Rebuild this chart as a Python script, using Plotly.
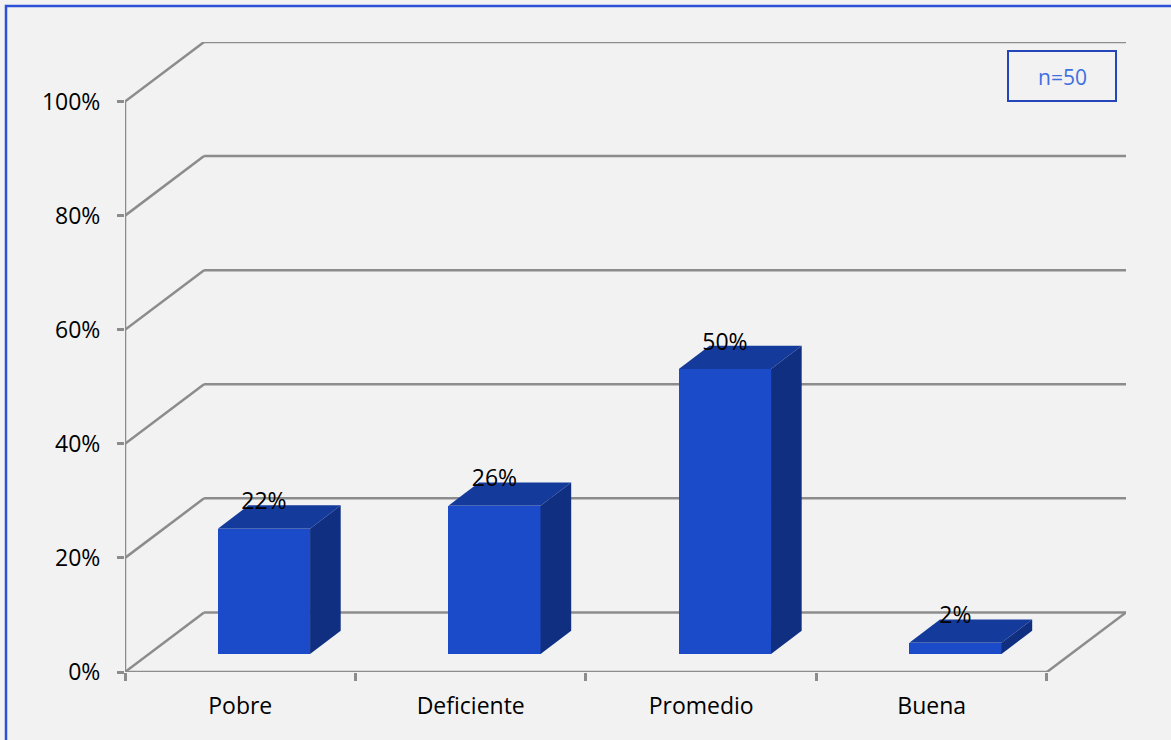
import plotly.graph_objects as go

# ---------------- data ----------------
categories = ["Pobre", "Deficiente", "Promedio", "Buena"]
values = [22, 26, 50, 2]
value_labels = ["22%", "26%", "50%", "2%"]
y_tickvals = [0, 20, 40, 60, 80, 100]
y_ticktext = ["0%", "20%", "40%", "60%", "80%", "100%"]
note_text = "n=50"

# ---------------- style / geometry ----------------
FONT = "Open Sans"
BG = "#f2f2f2"
GRID = "#8c8c8c"
FRONT = "#1b4bc8"
TOP = "#143a9c"
SIDE = "#102f80"

W, H = 1171, 740
ML, MR, MT, MB = 125, 45, 42, 68
PW, PH = W - ML - MR, H - MT - MB

DEPTH_X = 0.343      # wall depth in x units
DEPTH_Y = 10.45      # wall depth in y units
BAR_POS = 0.30       # bar front plane as fraction of depth
BAR_W = 0.40
BAR_DX = 0.133
BAR_DY = 4.08
LABEL_GAP = 4.4

x_lo, x_hi = -0.5, len(categories) - 0.5
base = BAR_POS * DEPTH_Y
off = BAR_POS * DEPTH_X
bar_x = [i + off for i in range(len(categories))]

fig = go.Figure()

# front faces
fig.add_trace(go.Bar(
    x=bar_x, y=values, base=[base] * len(values), width=BAR_W,
    marker=dict(color=FRONT, line=dict(width=0)), showlegend=False,
    hoverinfo="skip"))

# top and side faces
for xc, v in zip(bar_x, values):
    x0, x1 = xc - BAR_W / 2, xc + BAR_W / 2
    top = base + v
    fig.add_trace(go.Scatter(
        x=[x0, x1, x1 + BAR_DX, x0 + BAR_DX, x0],
        y=[top, top, top + BAR_DY, top + BAR_DY, top],
        fill="toself", fillcolor=TOP, mode="lines", line=dict(width=0),
        showlegend=False, hoverinfo="skip"))
    fig.add_trace(go.Scatter(
        x=[x1, x1 + BAR_DX, x1 + BAR_DX, x1, x1],
        y=[base, base + BAR_DY, top + BAR_DY, top, base],
        fill="toself", fillcolor=SIDE, mode="lines", line=dict(width=0),
        showlegend=False, hoverinfo="skip"))

# value labels
fig.add_trace(go.Scatter(
    x=bar_x, y=[base + v + LABEL_GAP for v in values], text=value_labels,
    mode="text", textposition="middle center",
    textfont=dict(family=FONT, size=23, color="black"),
    showlegend=False, hoverinfo="skip"))

shapes = []
gl = dict(color=GRID, width=2.5)
for v in y_tickvals:
    # back wall gridline
    shapes.append(dict(type="line", xref="x", yref="y", layer="below",
                       x0=x_lo + DEPTH_X, x1=x_hi + DEPTH_X,
                       y0=v + DEPTH_Y, y1=v + DEPTH_Y, line=gl))
    # side wall diagonal
    shapes.append(dict(type="line", xref="x", yref="y", layer="below",
                       x0=x_lo, x1=x_lo + DEPTH_X,
                       y0=v, y1=v + DEPTH_Y, line=gl))
# front vertical axis
shapes.append(dict(type="line", xref="x", yref="y", layer="below",
                   x0=x_lo, x1=x_lo, y0=0, y1=y_tickvals[-1], line=gl))
# floor front edge and right edge
shapes.append(dict(type="line", xref="x", yref="y", layer="below",
                   x0=x_lo, x1=x_hi, y0=0, y1=0, line=gl))
shapes.append(dict(type="line", xref="x", yref="y", layer="below",
                   x0=x_hi, x1=x_hi + DEPTH_X, y0=0, y1=DEPTH_Y, line=gl))


def px_x(p):
    return (p - ML) / PW


def px_y(p):
    return (H - MB - p) / PH


# outer chart border (cropped on the right and bottom)
shapes.append(dict(type="rect", xref="paper", yref="paper",
                   x0=px_x(6), x1=px_x(W + 20), y0=px_y(H + 20), y1=px_y(6),
                   line=dict(color="#2b52d6", width=2.5), fillcolor="rgba(0,0,0,0)"))
# note box
shapes.append(dict(type="rect", xref="paper", yref="paper",
                   x0=px_x(1008), x1=px_x(1116), y0=px_y(101), y1=px_y(51),
                   line=dict(color="#2446b8", width=2), fillcolor=BG))

fig.add_annotation(x=px_x(1062), y=px_y(77), xref="paper", yref="paper",
                   xanchor="center", yanchor="middle",
                   text=note_text, showarrow=False,
                   font=dict(family=FONT, size=21, color="#3f6fe0"))

fig.update_layout(
    width=W, height=H, autosize=False,
    margin=dict(l=ML, r=MR, t=MT, b=MB, pad=0),
    paper_bgcolor=BG, plot_bgcolor=BG,
    shapes=shapes, showlegend=False, bargap=0,
    xaxis=dict(range=[x_lo, x_hi + DEPTH_X], tickmode="array",
               tickvals=list(range(len(categories))), ticktext=categories,
               ticks="", showgrid=False, zeroline=False, showline=False,
               tickfont=dict(family=FONT, size=23, color="black"),
               ticklabelstandoff=18,
               minor=dict(tickmode="array",
                          tickvals=[i - 0.5 for i in range(len(categories) + 1)],
                          ticks="outside", ticklen=8, tickwidth=2.5, tickcolor=GRID,
                          showgrid=False),
               fixedrange=True),
    yaxis=dict(range=[0, y_tickvals[-1] + DEPTH_Y], tickmode="array",
               tickvals=y_tickvals, ticktext=y_ticktext,
               ticks="outside", ticklen=7, tickwidth=2.5, tickcolor=GRID,
               showgrid=False, zeroline=False, showline=False,
               tickfont=dict(family=FONT, size=23, color="black"),
               ticklabelstandoff=12, fixedrange=True),
)

fig.write_html("out.html")
